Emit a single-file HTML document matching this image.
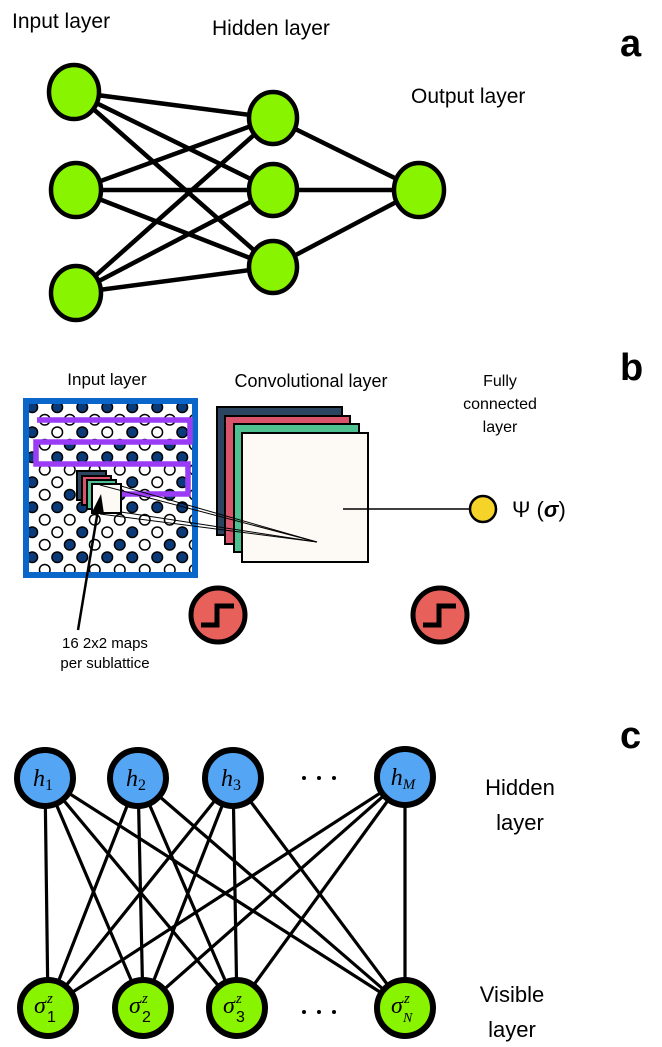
<!DOCTYPE html>
<html><head><meta charset="utf-8"><style>
html,body{margin:0;padding:0;background:#fff;}
svg{display:block;}
text{font-family:"Liberation Sans",sans-serif;}
.m{font-family:"Liberation Serif",serif;font-style:italic;}
</style></head><body>
<svg width="662" height="1047" viewBox="0 0 662 1047" xmlns="http://www.w3.org/2000/svg">
<defs>
<pattern id="lat" patternUnits="userSpaceOnUse" x="26" y="401" width="50" height="50">
<g stroke="#000" stroke-width="1.5">
<circle cx="6.25" cy="6.25" r="5.3" fill="#0b3a78"/><circle cx="31.25" cy="6.25" r="5.3" fill="#0b3a78"/>
<circle cx="18.75" cy="18.75" r="5.3" fill="#fff"/><circle cx="43.75" cy="18.75" r="5.3" fill="#fff"/>
<circle cx="6.25" cy="31.25" r="5.3" fill="#0b3a78"/><circle cx="31.25" cy="31.25" r="5.3" fill="#fff"/>
<circle cx="18.75" cy="43.75" r="5.3" fill="#fff"/><circle cx="43.75" cy="43.75" r="5.3" fill="#0b3a78"/>
</g>
</pattern>
</defs>

<!-- Panel a -->
<text x="12" y="28" font-size="21">Input layer</text>
<text x="212" y="35" font-size="21">Hidden layer</text>
<text x="411" y="103" font-size="21">Output layer</text>
<text x="620" y="56" font-size="38" font-weight="bold">a</text>
<g stroke="#000" stroke-width="4.5">
<line x1="74" y1="92" x2="273" y2="118"/><line x1="74" y1="92" x2="273" y2="190"/><line x1="74" y1="92" x2="273" y2="267"/>
<line x1="76" y1="190" x2="273" y2="118"/><line x1="76" y1="190" x2="273" y2="190"/><line x1="76" y1="190" x2="273" y2="267"/>
<line x1="76" y1="293" x2="273" y2="118"/><line x1="76" y1="293" x2="273" y2="190"/><line x1="76" y1="293" x2="273" y2="267"/>
<line x1="273" y1="118" x2="419" y2="190"/><line x1="273" y1="190" x2="419" y2="190"/><line x1="273" y1="267" x2="419" y2="190"/>
</g>
<g fill="#88f400" stroke="#000" stroke-width="4.5">
<ellipse cx="74" cy="92" rx="25" ry="27"/><ellipse cx="76" cy="190" rx="25" ry="27"/><ellipse cx="76" cy="293" rx="25" ry="27"/>
<ellipse cx="273" cy="118" rx="24" ry="26"/><ellipse cx="273" cy="190" rx="24" ry="26"/><ellipse cx="273" cy="267" rx="24" ry="26"/>
<ellipse cx="419" cy="190" rx="25" ry="27"/>
</g>

<!-- Panel b -->
<text x="620" y="380" font-size="38" font-weight="bold">b</text>
<text x="107" y="385" font-size="17" text-anchor="middle">Input layer</text>
<text x="311" y="387" font-size="18" text-anchor="middle">Convolutional layer</text>
<text x="500" y="386" font-size="16" text-anchor="middle">Fully</text>
<text x="500" y="409" font-size="16" text-anchor="middle">connected</text>
<text x="500" y="432" font-size="16" text-anchor="middle">layer</text>

<rect x="26" y="401" width="169" height="174" fill="#fff" stroke="#0a66c8" stroke-width="6"/>
<rect x="29" y="404" width="163" height="168" fill="url(#lat)"/>
<path d="M37,420 H190 V442 H36 V464 H188 V494 H122" fill="none" stroke="#9a3cf6" stroke-width="5.5"/>

<g stroke="#000" stroke-width="2">
<rect x="77" y="471" width="29" height="29" fill="#2b4560"/>
<rect x="82" y="476" width="29" height="29" fill="#d9546a"/>
<rect x="87" y="480" width="29" height="29" fill="#4fc08f"/>
<rect x="92" y="484" width="29" height="29" fill="#fdfaf6"/>
</g>

<rect x="217" y="407" width="125" height="128" fill="#2b4560" stroke="#000" stroke-width="2"/>
<rect x="225" y="416" width="125" height="128" fill="#d9546a" stroke="#000" stroke-width="2"/>
<rect x="234" y="424" width="125" height="128" fill="#4fc08f" stroke="#000" stroke-width="2"/>
<rect x="242" y="433" width="126" height="129" fill="#fdfaf6" stroke="#000" stroke-width="2"/>

<g stroke="#000" stroke-width="1">
<line x1="100" y1="485" x2="317" y2="542"/><line x1="121" y1="486" x2="317" y2="542"/>
<line x1="121" y1="512" x2="317" y2="542"/><line x1="100" y1="514" x2="317" y2="542"/>
</g>
<line x1="343" y1="509" x2="470" y2="509" stroke="#000" stroke-width="1.5"/>
<circle cx="483" cy="509" r="13" fill="#f5d328" stroke="#000" stroke-width="2.5"/>
<text x="512" y="517" font-size="22" font-family="Liberation Serif,serif">Ψ (<tspan font-weight="bold" font-style="italic">σ</tspan>)</text>

<line x1="78" y1="630" x2="98" y2="510" stroke="#000" stroke-width="2.5"/>
<polygon points="101,494 92,512 104,514" fill="#000"/>
<text x="105" y="648" font-size="15" text-anchor="middle">16 2x2 maps</text>
<text x="105" y="668" font-size="15" text-anchor="middle">per sublattice</text>

<g>
<circle cx="218" cy="615" r="27" fill="#e8605a" stroke="#000" stroke-width="5"/>
<path d="M201,625 H217 V606 H234" fill="none" stroke="#000" stroke-width="5"/>
<circle cx="440" cy="615" r="27" fill="#e8605a" stroke="#000" stroke-width="5"/>
<path d="M423,625 H439 V606 H456" fill="none" stroke="#000" stroke-width="5"/>
</g>

<!-- Panel c -->
<text x="620" y="748" font-size="38" font-weight="bold">c</text>
<text x="520" y="795" font-size="22" text-anchor="middle">Hidden</text>
<text x="520" y="830" font-size="22" text-anchor="middle">layer</text>
<text x="512" y="1002" font-size="22" text-anchor="middle">Visible</text>
<text x="512" y="1037" font-size="22" text-anchor="middle">layer</text>
<g stroke="#000" stroke-width="3.2">
<line x1="45" y1="778" x2="48" y2="1008"/><line x1="45" y1="778" x2="143" y2="1008"/><line x1="45" y1="778" x2="237" y2="1008"/><line x1="45" y1="778" x2="405" y2="1008"/>
<line x1="138" y1="778" x2="48" y2="1008"/><line x1="138" y1="778" x2="143" y2="1008"/><line x1="138" y1="778" x2="237" y2="1008"/><line x1="138" y1="778" x2="405" y2="1008"/>
<line x1="233" y1="778" x2="48" y2="1008"/><line x1="233" y1="778" x2="143" y2="1008"/><line x1="233" y1="778" x2="237" y2="1008"/><line x1="233" y1="778" x2="405" y2="1008"/>
<line x1="405" y1="777" x2="48" y2="1008"/><line x1="405" y1="777" x2="143" y2="1008"/><line x1="405" y1="777" x2="237" y2="1008"/><line x1="405" y1="777" x2="405" y2="1008"/>
</g>
<g stroke="#000" stroke-width="6">
<circle cx="45" cy="778" r="28" fill="#55a5f5"/><circle cx="138" cy="778" r="28" fill="#55a5f5"/>
<circle cx="233" cy="778" r="28" fill="#55a5f5"/><circle cx="405" cy="777" r="28" fill="#55a5f5"/>
<circle cx="48" cy="1008" r="28" fill="#88f400"/><circle cx="143" cy="1008" r="28" fill="#88f400"/>
<circle cx="237" cy="1008" r="28" fill="#88f400"/><circle cx="405" cy="1008" r="28" fill="#88f400"/>
</g>
<g font-size="24" text-anchor="middle">
<text x="43" y="786" class="m">h<tspan font-size="16" font-style="normal" dy="4">1</tspan></text>
<text x="136" y="786" class="m">h<tspan font-size="16" font-style="normal" dy="4">2</tspan></text>
<text x="231" y="786" class="m">h<tspan font-size="16" font-style="normal" dy="4">3</tspan></text>
<text x="403" y="785" class="m">h<tspan font-size="15" dy="4">M</tspan></text>
</g>
<g font-size="24">
<text x="34" y="1013" class="m">σ</text><text x="47" y="1003" class="m" font-size="15">z</text><text x="47" y="1022" font-size="16" font-family="Liberation Serif,serif">1</text>
<text x="129" y="1013" class="m">σ</text><text x="142" y="1003" class="m" font-size="15">z</text><text x="142" y="1022" font-size="16" font-family="Liberation Serif,serif">2</text>
<text x="223" y="1013" class="m">σ</text><text x="236" y="1003" class="m" font-size="15">z</text><text x="236" y="1022" font-size="16" font-family="Liberation Serif,serif">3</text>
<text x="391" y="1013" class="m">σ</text><text x="404" y="1003" class="m" font-size="15">z</text><text x="403" y="1022" class="m" font-size="14">N</text>
</g>
<g fill="#000">
<circle cx="304" cy="778" r="2"/><circle cx="319" cy="778" r="2"/><circle cx="334" cy="778" r="2"/>
<circle cx="304" cy="1012" r="2"/><circle cx="319" cy="1012" r="2"/><circle cx="334" cy="1012" r="2"/>
</g>
</svg>
</body></html>
